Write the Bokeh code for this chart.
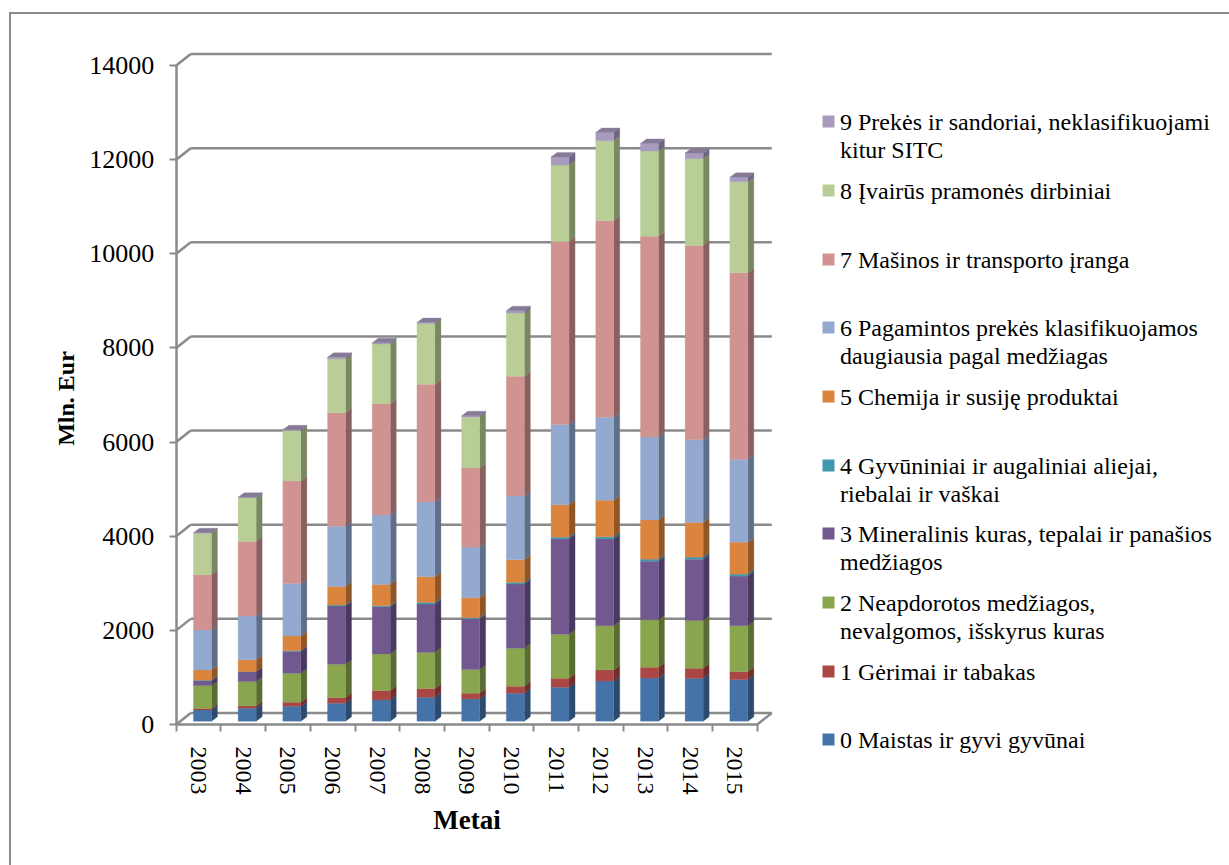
from bokeh.plotting import figure
from bokeh.embed import file_html
from bokeh.resources import INLINE
from bokeh.models import Range1d, FixedTicker, BoxAnnotation, Label, BasicTickFormatter
import math

years = ["2003","2004","2005","2006","2007","2008","2009","2010","2011","2012","2013","2014","2015"]

s0_food      = [240,276,318,382,452,509,474,594,721,855,919,912,884]
s1_drinks    = [29,49,85,120,198,184,120,148,191,234,226,212,169]
s2_crude     = [488,516,615,707,778,770,502,806,933,940,1011,1018,976]
s3_fuel      = [99,205,467,1237,1004,1026,1081,1365,2029,1845,1244,1301,1054]
s4_oils      = [14,7,14,21,21,35,21,35,36,43,43,43,42]
s5_chem      = [219,255,311,396,453,544,425,481,686,777,834,735,678]
s6_goods     = [848,926,1117,1280,1477,1591,1075,1356,1709,1766,1759,1757,1760]
s7_machines  = [1174,1584,2176,2408,2359,2501,1680,2544,3886,4170,4267,4128,3964]
s8_misc      = [884,931,1075,1145,1272,1287,1082,1342,1626,1702,1811,1844,1936]
s9_other     = [10,11,12,34,26,24,30,50,170,176,161,121,91]
series = [s0_food,s1_drinks,s2_crude,s3_fuel,s4_oils,s5_chem,s6_goods,s7_machines,s8_misc,s9_other]

front_colors = ["#4572A7","#AA4643","#89A54E","#71588F","#4198AF","#DB843D","#93A9CF","#D19392","#B9CD96","#A99BBD"]
side_colors  = ["#2C4A6E","#6F2E2C","#5A6C33","#4A395E","#2A6373","#8F5628","#606F88","#896060","#798763","#6F6580"]
top_color    = "#867A99"

legend_labels = [
    ["0 Maistas ir gyvi gyvūnai"],
    ["1 Gėrimai ir tabakas"],
    ["2 Neapdorotos medžiagos,", "nevalgomos, išskyrus kuras"],
    ["3 Mineralinis kuras, tepalai ir panašios", "medžiagos"],
    ["4 Gyvūniniai ir augaliniai aliejai,", "riebalai ir vaškai"],
    ["5 Chemija ir susiję produktai"],
    ["6 Pagamintos prekės klasifikuojamos", "daugiausia pagal medžiagas"],
    ["7 Mašinos ir transporto įranga"],
    ["8 Įvairūs pramonės dirbiniai"],
    ["9 Prekės ir sandoriai, neklasifikuojami", "kitur SITC"],
]
legend_centers = [739,671,602,533,465,396,327,259,190,121]  # canvas y of the first line

y_ticks = [0,2000,4000,6000,8000,10000,12000,14000]

FONT = "Liberation Serif"
GRID = "#8A8A8A"
W, H = 1229, 865
X0, Y0 = 175.7, 724          # canvas position of the axes' origin
PITCH = 44.7                 # px per category
PX_Y = 0.04707               # px per unit
xpx = 1 / PITCH
ypx = 1 / PX_Y

p = figure(width=W, height=H, output_backend="svg", toolbar_location=None,
           x_range=Range1d(-0.5 - X0 * xpx, -0.5 + (W - X0) * xpx),
           y_range=Range1d(-(H - Y0) * ypx, Y0 * ypx),
           min_border_left=0, min_border_top=0, min_border_bottom=0, min_border_right=0,
           background_fill_color="white", border_fill_color="white")
p.outline_line_color = None
p.grid.visible = False

# walls
wall_dx, wall_dy = 14.5 * xpx, 11.5 * ypx
x_end = len(years) - 0.5
p.segment(x0=[-0.5 + wall_dx] * len(y_ticks), y0=[v + wall_dy for v in y_ticks],
          x1=[x_end + wall_dx] * len(y_ticks), y1=[v + wall_dy for v in y_ticks],
          line_color=GRID, line_width=2.5)
p.segment(x0=[-0.5] * len(y_ticks), y0=y_ticks,
          x1=[-0.5 + wall_dx] * len(y_ticks), y1=[v + wall_dy for v in y_ticks],
          line_color=GRID, line_width=2.5)
p.segment(x0=[x_end], y0=[0], x1=[x_end + wall_dx], y1=[wall_dy], line_color=GRID, line_width=2.5)

# bars
half = 9 * xpx
shift = 3.9 * xpx
lift = 3.3 * ypx
side_dx, side_dy = 6 * xpx, 4.5 * ypx
n = len(years)
for i in range(n):
    base = lift
    cx = i + shift
    l, r = cx - half, cx + half
    for k, vals in enumerate(series):
        t = base + vals[i]
        p.patch([r, r + side_dx, r + side_dx, r], [base, base + side_dy, t + side_dy, t],
                fill_color=side_colors[k], line_color=side_colors[k], line_width=0.3)
        p.quad(left=[l], right=[r], bottom=[base], top=[t],
               fill_color=front_colors[k], line_color=front_colors[k], line_width=0.3)
        base = t
    p.patch([l, r, r + side_dx, l + side_dx], [base, base, base + side_dy, base + side_dy],
            fill_color=top_color, line_color=top_color, line_width=0.3)

# axes
xa = p.xaxis[0]
xa.fixed_location = 0
xa.ticker = FixedTicker(ticks=list(range(n)), minor_ticks=[i - 0.5 for i in range(n + 1)])
xa.major_label_overrides = {i: y for i, y in enumerate(years)}
xa.major_label_orientation = "vertical"
xa.major_label_text_font = FONT
xa.major_label_text_font_size = "24px"
xa.major_label_text_color = "black"
xa.major_label_standoff = 15
xa.major_tick_in = 0
xa.major_tick_out = 0
xa.minor_tick_in = 0
xa.minor_tick_out = 7
xa.minor_tick_line_color = GRID
xa.minor_tick_line_width = 2
xa.axis_line_color = GRID
xa.axis_line_width = 2.5
xa.bounds = (-0.5, x_end)

ya = p.yaxis[0]
ya.fixed_location = -0.5
ya.ticker = FixedTicker(ticks=y_ticks)
ya.formatter = BasicTickFormatter(use_scientific=False)
ya.major_label_text_font = FONT
ya.major_label_text_font_size = "26px"
ya.major_label_text_color = "black"
ya.major_label_standoff = 15
ya.major_tick_in = 0
ya.major_tick_out = 7
ya.major_tick_line_color = GRID
ya.major_tick_line_width = 2
ya.minor_tick_out = 0
ya.minor_tick_in = 0
ya.axis_line_color = GRID
ya.axis_line_width = 2.5
ya.bounds = (0, 14000)

# axis titles
p.add_layout(Label(x=466.5, y=819, x_units="canvas", y_units="canvas", text="Metai",
                   text_font=FONT, text_font_size="27px", text_font_style="bold", text_color="black",
                   text_align="center", text_baseline="middle"))
p.add_layout(Label(x=65, y=398, x_units="canvas", y_units="canvas", text="Mln. Eur", angle=math.pi / 2,
                   text_font=FONT, text_font_size="24px", text_font_style="bold", text_color="black",
                   text_align="center", text_baseline="middle"))

# legend
for k, lines in enumerate(legend_labels):
    c = legend_centers[k]
    p.add_layout(BoxAnnotation(left=822, right=834, top=c - 6, bottom=c + 6,
                               left_units="canvas", right_units="canvas", top_units="canvas", bottom_units="canvas",
                               fill_color=front_colors[k], fill_alpha=1, line_color=None))
    for j, txt in enumerate(lines):
        p.add_layout(Label(x=839.5, y=c + 28 * j, x_units="canvas", y_units="canvas", text=txt,
                           text_font=FONT, text_font_size="24px", text_color="black",
                           text_baseline="middle", text_align="left"))

# chart-area border (left and top sides; the others lie off the page)
for box in [dict(left=8.5, right=10.5, top=11.5, bottom=H), dict(left=8.5, right=W, top=11.5, bottom=13.5)]:
    p.add_layout(BoxAnnotation(left_units="canvas", right_units="canvas", top_units="canvas", bottom_units="canvas",
                               fill_color="#8A8A8A", fill_alpha=1, line_color=None, **box))

open("out.html", "w").write(file_html(p, INLINE))
